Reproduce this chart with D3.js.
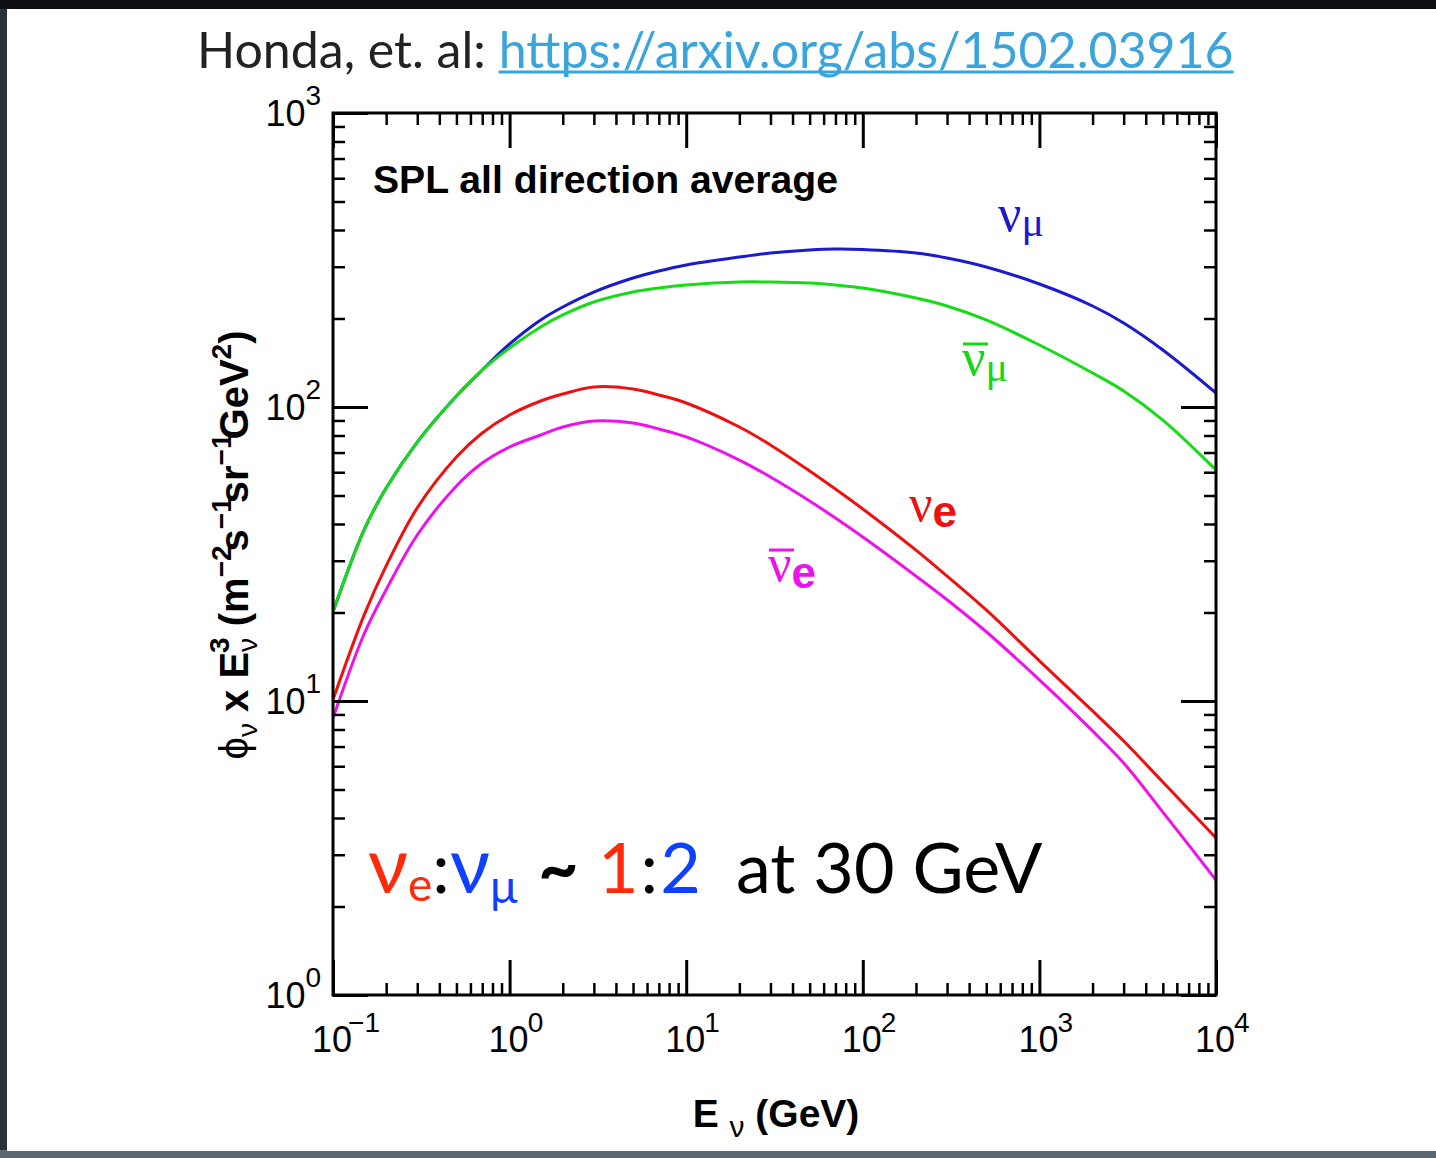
<!DOCTYPE html>
<html><head><meta charset="utf-8">
<script src="https://cdn.jsdelivr.net/npm/d3@7"></script>
<style>body{margin:0;background:#111;} svg{display:block}</style>
</head><body>
<svg id="c" width="1436" height="1158"></svg>
<script>
// ---- data ----
const energies = [0.1,0.15,0.2,0.3,0.5,0.7,1,1.5,2,3,5,7,10,20,30,50,70,100,200,300,500,1000,2000,3000,5000,10000];
const numu     = [20.1,38.2,53.0,76.0,109.0,133.6,163.8,197.7,218.9,246.1,274.7,290.1,304.1,323.7,334.0,342.0,344.7,343.4,334.0,321.2,299.4,262.0,220.6,193.1,156.3,111.6];
const numubar  = [20.1,38.2,53.0,76.0,109.0,133.6,158.7,187.2,205.6,227.6,246.1,254.0,260.0,266.2,266.2,264.1,260.0,254.0,234.8,220.6,197.7,162.5,130.5,113.4,90.3,61.1];
const nue      = [10.1,19.6,28.8,45.4,67.6,81.6,93.9,104.8,110.7,117.0,115.1,109.9,103.2,85.5,74.3,60.6,52.6,45.0,32.6,26.6,20.4,13.7,9.25,7.31,5.30,3.42];
const nuebar   = [8.75,16.9,23.9,36.7,53.9,64.5,73.1,80.3,85.5,89.6,88.2,84.2,79.1,66.0,57.8,47.9,41.9,36.1,26.6,22.1,17.2,11.8,7.91,6.15,4.19,2.46];
const xTickExps = [-1,0,1,2,3,4];
const yTickExps = [0,1,2,3];
const seriesNames = ["numu","numubar","nue","nuebar"];
const seriesColors = ["#1a1ad0","#16dc16","#ee1111","#ee11ee"];

// ---- layout ----
const svg = d3.select("#c");
const L=333, R=1216, T=113, B=995;
const x = d3.scaleLog().domain([0.1,1e4]).range([L,R]);
const y = d3.scaleLog().domain([1,1000]).range([B,T]);

// background
svg.append("rect").attr("width",1436).attr("height",1158).attr("fill","#0e1016");
svg.append("rect").attr("x",0).attr("y",1150).attr("width",1436).attr("height",8).attr("fill","#5d6673");
svg.append("rect").attr("x",0).attr("y",9).attr("width",7).attr("height",1141).attr("fill","#2c323c");
svg.append("rect").attr("x",7).attr("y",9).attr("width",1429).attr("height",1142).attr("fill","#ffffff");

// title
const title = svg.append("text").attr("x",197).attr("y",68)
  .style("font-family","Lato, 'Open Sans', sans-serif").style("font-size","46px");
const prefix = "Honda, et. al: ";
title.append("tspan").attr("fill","#222222").text(prefix);
title.append("tspan").attr("fill","#3aa5dc").text("https://arxiv.org/abs/1502.03916");
let tl = title.node().getComputedTextLength();
title.style("font-size", (46*1037/tl)+"px");
const linkStart = title.node().getStartPositionOfChar(prefix.length).x;
tl = title.node().getComputedTextLength();
svg.append("line").attr("x1",linkStart).attr("x2",197+tl).attr("y1",72).attr("y2",72)
  .attr("stroke","#3aa5dc").attr("stroke-width",3);

// clip
svg.append("clipPath").attr("id","clip").append("rect").attr("x",L).attr("y",T).attr("width",R-L).attr("height",B-T);

// curves
const line = d3.line().x((d,i)=>x(energies[i])).y(d=>y(d)).curve(d3.curveCatmullRom.alpha(0.5));
const allSeries = [numu,numubar,nue,nuebar];
svg.append("g").attr("clip-path","url(#clip)").selectAll("path").data(allSeries).join("path")
  .attr("d",line).attr("fill","none").attr("stroke",(d,i)=>seriesColors[i]).attr("stroke-width",3)
  .attr("stroke-linejoin","round");

// ticks
const majX = xTickExps.map(e=>Math.pow(10,e));
const minX = [];
xTickExps.slice(0,-1).forEach(e=>{for(let k=2;k<=9;k++) minX.push(k*Math.pow(10,e));});
const majY = yTickExps.map(e=>Math.pow(10,e));
const minY = [];
yTickExps.slice(0,-1).forEach(e=>{for(let k=2;k<=9;k++) minY.push(k*Math.pow(10,e));});
const MAJ=35, MIN=12;
function ticks(g){ g.selectAll(".domain").remove(); g.selectAll("line").attr("stroke","#000"); }
svg.append("g").attr("transform",`translate(0,${B})`).call(d3.axisBottom(x).tickValues(majX).tickSize(-MAJ).tickFormat("")).call(ticks).selectAll("line").attr("stroke-width",3);
svg.append("g").attr("transform",`translate(0,${B})`).call(d3.axisBottom(x).tickValues(minX).tickSize(-MIN).tickFormat("")).call(ticks).selectAll("line").attr("stroke-width",2.5);
svg.append("g").attr("transform",`translate(0,${T})`).call(d3.axisTop(x).tickValues(majX).tickSize(-MAJ).tickFormat("")).call(ticks).selectAll("line").attr("stroke-width",3);
svg.append("g").attr("transform",`translate(0,${T})`).call(d3.axisTop(x).tickValues(minX).tickSize(-MIN).tickFormat("")).call(ticks).selectAll("line").attr("stroke-width",2.5);
svg.append("g").attr("transform",`translate(${L},0)`).call(d3.axisLeft(y).tickValues(majY).tickSize(-MAJ).tickFormat("")).call(ticks).selectAll("line").attr("stroke-width",3);
svg.append("g").attr("transform",`translate(${L},0)`).call(d3.axisLeft(y).tickValues(minY).tickSize(-MIN).tickFormat("")).call(ticks).selectAll("line").attr("stroke-width",2.5);
svg.append("g").attr("transform",`translate(${R},0)`).call(d3.axisRight(y).tickValues(majY).tickSize(-MAJ).tickFormat("")).call(ticks).selectAll("line").attr("stroke-width",3);
svg.append("g").attr("transform",`translate(${R},0)`).call(d3.axisRight(y).tickValues(minY).tickSize(-MIN).tickFormat("")).call(ticks).selectAll("line").attr("stroke-width",2.5);

// frame
svg.append("rect").attr("x",L).attr("y",T).attr("width",R-L).attr("height",B-T)
  .attr("fill","none").attr("stroke","#000").attr("stroke-width",3);

// tick labels
const lf = "'Liberation Sans', Arial, sans-serif";
xTickExps.forEach(e=>{
  const t = svg.append("text").attr("x",x(Math.pow(10,e))-21).attr("y",1052)
    .style("font-family",lf).style("font-size","36px").attr("fill","#000");
  t.append("tspan").text("10");
  t.append("tspan").attr("dy",-20).attr("dx", e<0?-4:-1).style("font-size","28px").text(e<0?"\u2212"+(-e):String(e));
});
yTickExps.forEach(e=>{
  const t = svg.append("text").attr("x",321).attr("y",y(Math.pow(10,e))+13).attr("text-anchor","end")
    .style("font-family",lf).style("font-size","36px").attr("fill","#000");
  t.append("tspan").text("10");
  t.append("tspan").attr("dy",-21).attr("dx",0).style("font-size","28px").text(String(e));
});

// header label in plot
svg.append("text").attr("x",373).attr("y",193).style("font-family",lf).style("font-weight","bold")
  .style("font-size","38px").attr("textLength",465).attr("lengthAdjust","spacingAndGlyphs")
  .attr("fill","#000").text("SPL all direction average");

// curve labels
const sf = "'Liberation Serif', 'Times New Roman', serif";
function nuLabel(xp, yp, color, bar, sub, subSans, subDy){
  const g = svg.append("g");
  const t = g.append("text").attr("x",xp).attr("y",yp).attr("fill",color);
  t.append("tspan").style("font-family",sf).style("font-size","52px").text("\u03bd");
  const s = t.append("tspan").attr("dy",subDy).text(sub);
  if(subSans) s.style("font-family",lf).style("font-weight","bold").style("font-size","44px");
  else s.style("font-family",sf).style("font-size","42px");
  if(bar) g.append("line").attr("x1",xp+1).attr("x2",xp+26).attr("y1",yp-31).attr("y2",yp-31).attr("stroke",color).attr("stroke-width",3);
}
nuLabel(998, 231, seriesColors[0], false, "\u03bc", false, 5);
nuLabel(962, 375, "#16d616", true, "\u03bc", false, 6);
nuLabel(909, 521, seriesColors[2], false, "e", true, 6);
nuLabel(768, 581, seriesColors[3], true, "e", true, 7);

// annotation
const af = "Lato, 'Open Sans', sans-serif";
const ann = svg.append("text").attr("x",368).attr("y",893).style("font-family",af).style("font-size","70px");
ann.append("tspan").attr("fill","#ff2a0a").style("font-size","78px").text("\u03bd");
ann.append("tspan").attr("fill","#ff2a0a").attr("dy",8).style("font-size","46px").text("e");
ann.append("tspan").attr("fill","#000").attr("dy",-8).text(":");
ann.append("tspan").attr("fill","#1040ff").style("font-size","78px").text("\u03bd");
ann.append("tspan").attr("fill","#1040ff").attr("dy",10).style("font-size","46px").text("\u03bc");
ann.append("tspan").attr("fill","#000").attr("dy",-10).attr("x",538).style("font-weight","bold").text("~");
ann.append("tspan").attr("fill","#ff2a0a").attr("x",598).text("1");
ann.append("tspan").attr("fill","#000").attr("dx",2).text(":");
ann.append("tspan").attr("fill","#1040ff").attr("dx",2).text("2");
ann.append("tspan").attr("fill","#000").attr("x",736).text("at 30 GeV");

// x axis label
const xl = svg.append("text").attr("x",776).attr("y",1127).attr("text-anchor","middle")
  .style("font-family",lf).style("font-size","39px").attr("fill","#000");
xl.append("tspan").style("font-weight","bold").text("E ");
xl.append("tspan").attr("dy",10).style("font-size","30px").text("\u03bd");
xl.append("tspan").attr("dy",-10).style("font-weight","bold").text(" (GeV)");

// y axis label
const yg = svg.append("g").attr("transform","translate(248,545) rotate(-90)");
const yl = yg.append("text").attr("x",0).attr("y",0).attr("text-anchor","middle")
  .style("font-family",lf).style("font-size","40px").style("font-weight","bold").attr("fill","#000");
yl.append("tspan").style("font-weight","normal").text("\u03d5");
yl.append("tspan").attr("dy",9).style("font-size","28px").style("font-weight","normal").text("\u03bd");
yl.append("tspan").attr("dy",-9).text(" x E");
yl.append("tspan").attr("dy",9).style("font-size","28px").style("font-weight","normal").text("\u03bd");
yl.append("tspan").attr("dy",-28).attr("dx",-15).style("font-size","28px").text("3");
yl.append("tspan").attr("dy",19).text(" (m");
yl.append("tspan").attr("dy",-17).style("font-size","28px").text("\u22122");
yl.append("tspan").attr("dy",17).attr("dx",-6).text("s");
yl.append("tspan").attr("dy",-17).style("font-size","28px").text("\u22121");
yl.append("tspan").attr("dy",17).attr("dx",-6).text("sr");
yl.append("tspan").attr("dy",-17).style("font-size","28px").text("\u22121");
yl.append("tspan").attr("dy",17).attr("dx",-6).text("GeV");
yl.append("tspan").attr("dy",-17).style("font-size","28px").text("2");
yl.append("tspan").attr("dy",17).text(")");
</script>
</body></html>
